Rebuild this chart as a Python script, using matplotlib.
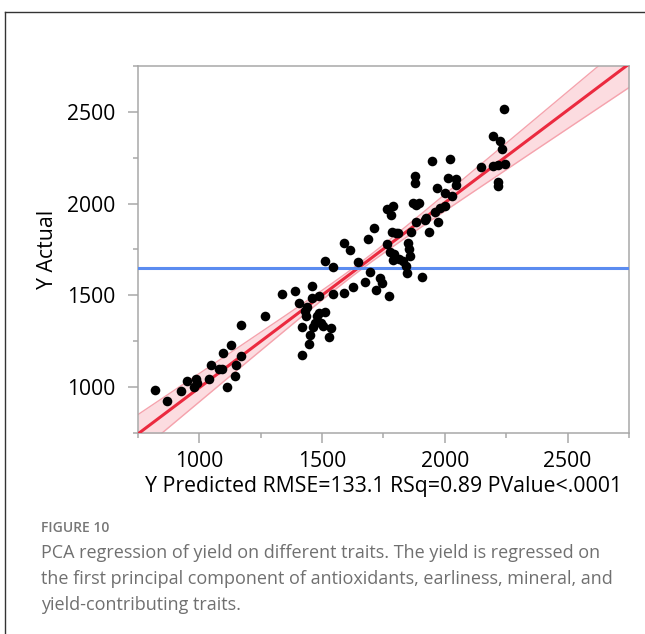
import numpy as np
import matplotlib
matplotlib.use("Agg")
import matplotlib.pyplot as plt
from matplotlib.lines import Line2D
from matplotlib.ticker import MultipleLocator

# values
y_pred = [821, 868, 924, 949, 986, 979, 989, 1040, 1047, 1080, 1094, 1098, 1113, 1130,
          1145, 1149, 1170, 1171, 1269, 1338, 1388, 1404, 1419, 1419, 1431, 1434, 1438,
          1445, 1452, 1458, 1458, 1463, 1472, 1479, 1488, 1486, 1495, 1503, 1513, 1513,
          1529, 1537, 1546, 1546, 1590, 1591, 1615, 1627, 1645, 1676, 1688, 1696, 1712,
          1718, 1735, 1744, 1764, 1765, 1772, 1776, 1782, 1785, 1787, 1789, 1795, 1803,
          1810, 1814, 1830, 1841, 1844, 1852, 1855, 1858, 1864, 1871, 1877, 1880, 1881,
          1884, 1895, 1907, 1919, 1925, 1937, 1948, 1960, 1968, 1973, 1979, 2000, 2001,
          2015, 2022, 2029, 2045, 2046, 2147, 2197, 2197, 2215, 2218, 2218, 2226, 2231,
          2242, 2245]
y_actual = [982, 924, 978, 1033, 1047, 1002, 1024, 1045, 1123, 1101, 1101, 1187, 1002, 1228,
            1060, 1121, 1172, 1339, 1389, 1509, 1524, 1458, 1176, 1326, 1413, 1386, 1437,
            1237, 1286, 1549, 1486, 1330, 1350, 1386, 1495, 1404, 1350, 1332, 1688, 1409,
            1275, 1321, 1654, 1509, 1783, 1513, 1745, 1543, 1681, 1574, 1808, 1629, 1866,
            1531, 1594, 1567, 1779, 1969, 1495, 1736, 1938, 1844, 1692, 1989, 1727, 1839,
            1839, 1697, 1685, 1658, 1620, 1784, 1754, 1712, 1844, 2002, 2110, 2149, 1897,
            1993, 2002, 1601, 1911, 1922, 1844, 2234, 1953, 2087, 1899, 1978, 1986, 2056,
            2138, 2245, 2040, 2136, 2101, 2201, 2368, 2205, 2096, 2116, 2210, 2342, 2295,
            2513, 2214]
y_mean = 1647
xlabel = "Y Predicted RMSE=133.1 RSq=0.89 PValue<.0001"
caption_head = "FIGURE 10"
caption_lines = ["PCA regression of yield on different traits. The yield is regressed on",
                 "the first principal component of antioxidants, earliness, mineral, and",
                 "yield-contributing traits."]

x = np.array(y_pred)
y = np.array(y_actual)

fig = plt.figure(figsize=(6.45, 6.34), dpi=100)
ax = fig.add_axes([0.214, 0.317, 0.761, 0.579])

# fit + confidence curves
slope, icpt = np.polyfit(x, y, 1)
xs = np.linspace(750, 2750, 200)
fit = slope * xs + icpt
hw = np.sqrt(20 ** 2 + (0.115 * (xs - x.mean())) ** 2)
ax.fill_between(xs, fit - hw, fit + hw, color="#fcdce0", lw=0, zorder=1)
ax.plot(xs, fit - hw, color="#f5a3ad", lw=1.0, zorder=2)
ax.plot(xs, fit + hw, color="#f5a3ad", lw=1.0, zorder=2)
ax.plot(xs, fit, color="#eb2a3f", lw=2.2, zorder=3)
ax.axhline(y_mean, color="#5b8cf0", lw=2.2, zorder=3)

ax.scatter(x, y, s=48, color="black", zorder=4, linewidths=0)

ax.set_xlim(750, 2750)
ax.set_ylim(750, 2750)
ax.xaxis.set_major_locator(MultipleLocator(500))
ax.yaxis.set_major_locator(MultipleLocator(500))
ax.xaxis.set_minor_locator(MultipleLocator(250))
ax.yaxis.set_minor_locator(MultipleLocator(250))

for s in ax.spines.values():
    s.set_color("#a8a8a8")
    s.set_linewidth(1.1)
ax.tick_params(which="major", length=7, width=1.1, color="#a8a8a8", labelsize=15.2)
ax.tick_params(which="minor", length=3.6, width=1.1, color="#a8a8a8")
ax.tick_params(axis="y", which="major", pad=9)
ax.tick_params(axis="x", which="major", pad=6)
for lab in ax.get_xticklabels() + ax.get_yticklabels():
    lab.set_fontfamily("Open Sans")

ax.set_xlabel(xlabel, fontsize=15.3, family="Open Sans", labelpad=3)
ax.set_ylabel("Y Actual", fontsize=15.3, family="Open Sans", labelpad=7)

# frame around figure (top and left only)
fig.add_artist(Line2D([5 / 645, 1], [1 - 12 / 634, 1 - 12 / 634], color="#333333", lw=1.0))
fig.add_artist(Line2D([5 / 645, 5 / 645], [0, 1 - 12 / 634], color="#333333", lw=1.0))

fig.text(41 / 645, 1 - 528 / 634, caption_head, fontsize=10, color="#777777",
         family="Open Sans", weight="semibold", va="center")
for i, line in enumerate(caption_lines):
    fig.text(41 / 645, 1 - (553 + 26 * i) / 634, line, fontsize=13, color="#707070",
             family="Open Sans", va="center")

fig.savefig("out.png", dpi=100)
